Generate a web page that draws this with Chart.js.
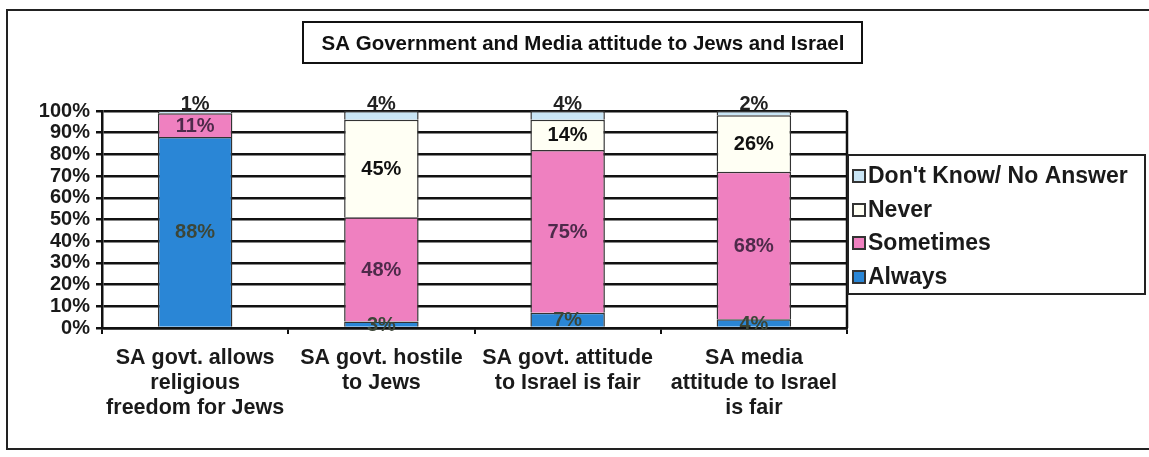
<!DOCTYPE html>
<html>
<head>
<meta charset="utf-8">
<script src="https://cdn.jsdelivr.net/npm/chart.js@4/dist/chart.umd.min.js"></script>
<style>
  html, body { margin: 0; padding: 0; background: #fff; }
  #chart { display: block; }
</style>
</head>
<body>
<canvas id="chart" width="1149" height="457"></canvas>
<script>
// categories (multi-line axis labels)
const categories = [
    ["SA govt. allows", "religious", "freedom for Jews"],
    ["SA govt. hostile", "to Jews"],
    ["SA govt. attitude", "to Israel is fair"],
    ["SA media", "attitude to Israel", "is fair"]
];

// answer shares in percent, stacked bottom to top
const always    = [88, 3, 7, 4];
const sometimes = [11, 48, 75, 68];
const never     = [0, 45, 14, 26];
const dontKnow  = [1, 4, 4, 2];

const yTicks = [0, 10, 20, 30, 40, 50, 60, 70, 80, 90, 100];

const titleText = "SA Government and Media attitude to Jews and Israel";
const FONT = "Arial, 'Liberation Sans', sans-serif";

// the frame, the title box, the segment labels and the legend box
const decorPlugin = {
    id: "decor",
    beforeDatasetsDraw(chart) {
        const { ctx, chartArea } = chart;
        ctx.save();
        ctx.strokeStyle = "#111";
        ctx.lineWidth = 2.5;
        ctx.beginPath();
        ctx.moveTo(chartArea.right, chartArea.top);
        ctx.lineTo(chartArea.right, chartArea.bottom);
        ctx.stroke();
        ctx.restore();
    },
    afterDraw(chart) {
        const { ctx } = chart;
        ctx.save();

        // outer frame
        ctx.strokeStyle = "#222";
        ctx.lineWidth = 2;
        ctx.strokeRect(7, 10, 1160, 439);

        // title box
        ctx.strokeStyle = "#111";
        ctx.strokeRect(303, 22, 559, 41);
        ctx.fillStyle = "#111";
        ctx.font = "bold 20.5px " + FONT;
        ctx.textAlign = "center";
        ctx.textBaseline = "middle";
        ctx.fillText(titleText, 583, 44);

        // values inside the segments
        ctx.font = "bold 20px " + FONT;
        chart.data.datasets.forEach((ds, i) => {
            const meta = chart.getDatasetMeta(i);
            meta.data.forEach((bar, j) => {
                const v = ds.data[j];
                if (!v) return;
                let y = (bar.y + bar.base) / 2;
                if (ds.label === "Don't Know/ No Answer") y = bar.y - 8;
                ctx.fillStyle = ds.labelColor;
                ctx.fillText(v + "%", bar.x, y + 1);
            });
        });

        // legend, top entry is the top of the stack
        ctx.strokeStyle = "#222";
        ctx.lineWidth = 2;
        ctx.strokeRect(848, 155, 297, 139);
        ctx.textAlign = "left";
        ctx.font = "bold 23px " + FONT;
        const rows = [176, 210, 243, 277];
        chart.data.datasets.slice().reverse().forEach((ds, k) => {
            const y = rows[k];
            ctx.fillStyle = ds.backgroundColor;
            ctx.fillRect(853, y - 6, 12, 12);
            ctx.lineWidth = 2;
            ctx.strokeStyle = "#333";
            ctx.strokeRect(853, y - 6, 12, 12);
            ctx.fillStyle = "#1a1a1a";
            ctx.fillText(ds.label, 868, y + 1);
        });
        ctx.restore();
    }
};

const barStyle = {
    borderColor: "#333",
    borderWidth: 1.5,
    barPercentage: 0.4,
    categoryPercentage: 1
};

new Chart(document.getElementById("chart"), {
    type: "bar",
    data: {
        labels: categories,
        datasets: [
            { label: "Always", data: always, backgroundColor: "#2a86d6", labelColor: "#3c4638", ...barStyle },
            { label: "Sometimes", data: sometimes, backgroundColor: "#ef80c0", labelColor: "#4e2a4a", ...barStyle },
            { label: "Never", data: never, backgroundColor: "#fffff4", labelColor: "#111", ...barStyle },
            { label: "Don't Know/ No Answer", data: dontKnow, backgroundColor: "#c9e5f5", labelColor: "#222", ...barStyle }
        ]
    },
    options: {
        responsive: false,
        animation: false,
        layout: { padding: { top: 111, right: 302, bottom: 0, left: 0 } },
        plugins: {
            legend: { display: false },
            title: { display: false },
            tooltip: { enabled: false }
        },
        scales: {
            x: {
                stacked: true,
                grid: { drawOnChartArea: false, color: "#111", lineWidth: 2, tickLength: 6 },
                border: { color: "#111", width: 2.5 },
                ticks: {
                    color: "#1a1a1a",
                    padding: 12,
                    maxRotation: 0,
                    autoSkip: false,
                    font: { family: FONT, size: 21.5, weight: "bold", lineHeight: "25px" }
                },
                afterFit(scale) { scale.height = 129; }
            },
            y: {
                stacked: true,
                min: 0,
                max: 100,
                afterBuildTicks(scale) { scale.ticks = yTicks.map(v => ({ value: v })); },
                grid: { color: "#111", lineWidth: 2.5, tickLength: 6 },
                border: { color: "#111", width: 2.5 },
                ticks: {
                    color: "#1a1a1a",
                    padding: 6,
                    autoSkip: false,
                    font: { family: FONT, size: 20, weight: "bold", lineHeight: 1 },
                    callback: v => v + "%"
                },
                afterFit(scale) { scale.width = 102; }
            }
        }
    },
    plugins: [decorPlugin]
});
</script>
</body>
</html>
